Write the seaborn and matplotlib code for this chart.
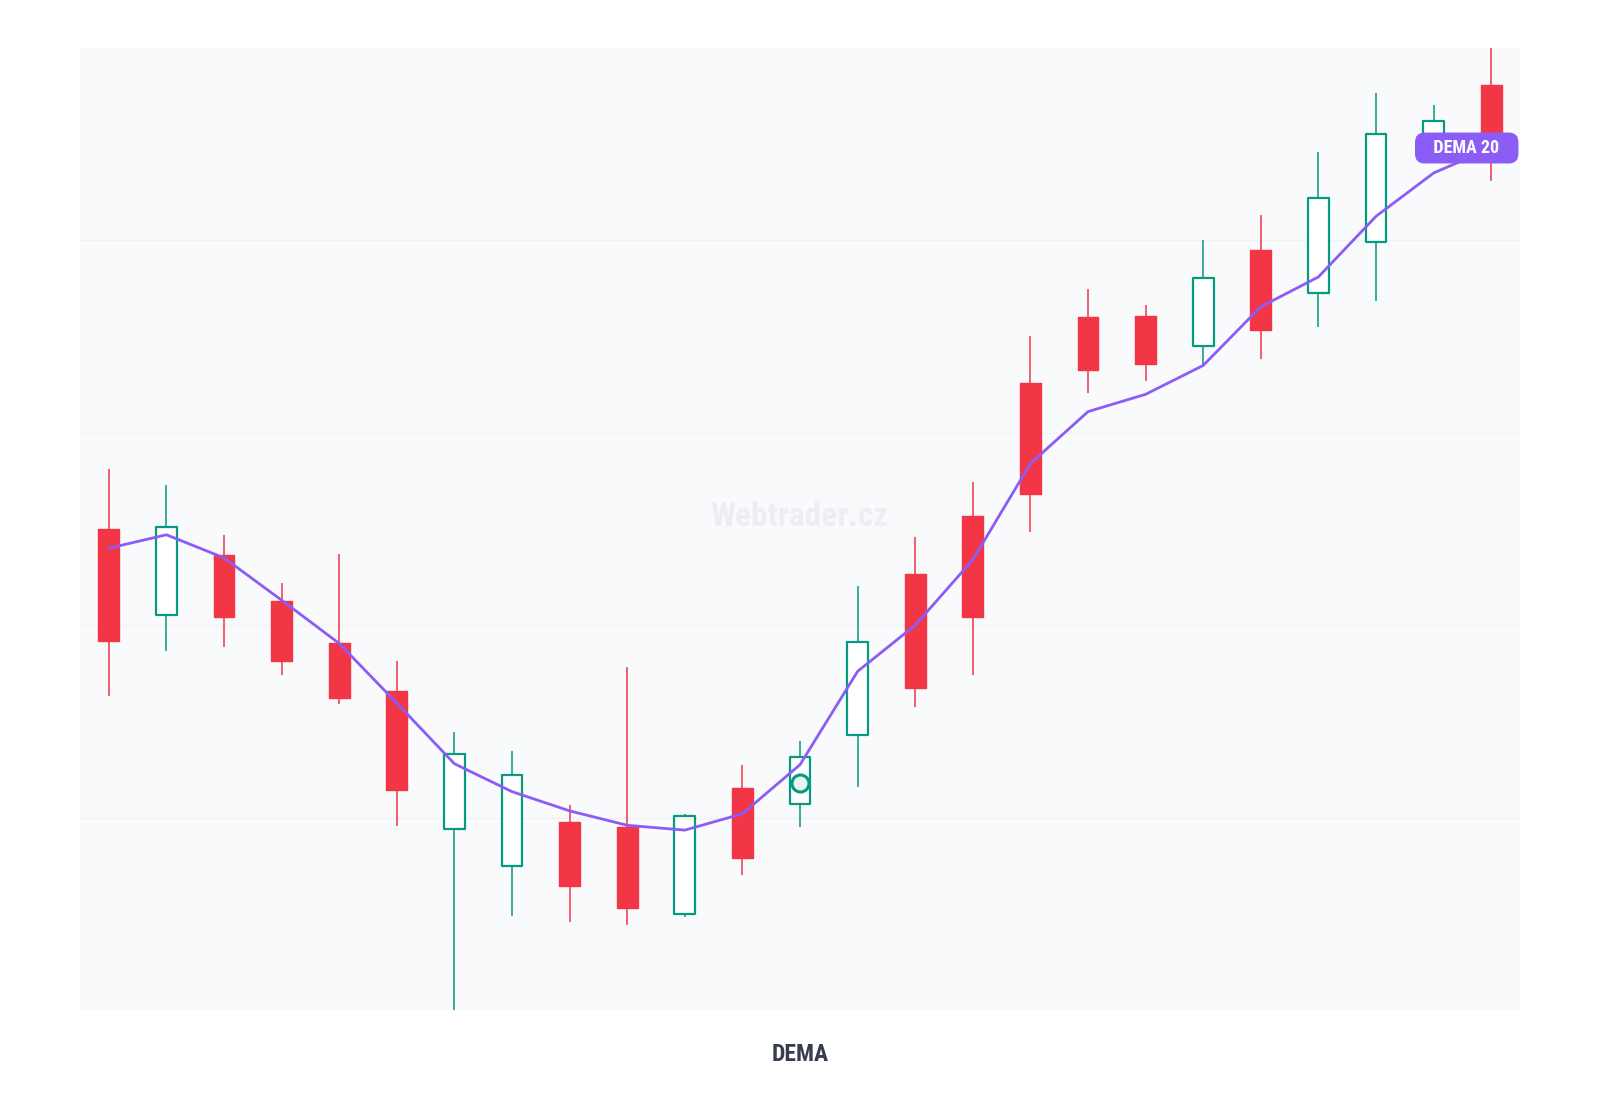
import numpy as np
import pandas as pd
import matplotlib.pyplot as plt
import seaborn as sns
from matplotlib import font_manager

# candle data (index 0..24), prices on a 0-100 scale
opens = [50.0, 41.1, 47.3, 42.5, 38.1, 33.2, 18.8, 15.0, 19.5, 19.0, 10.0, 23.1, 21.4,
         28.6, 45.3, 51.4, 65.2, 72.0, 72.1, 69.0, 79.0, 74.5, 79.8, 90.1, 96.1]
highs = [56.2, 54.6, 49.4, 44.4, 47.4, 36.3, 28.9, 26.9, 21.3, 35.7, 20.4, 25.5, 28.0,
         44.1, 49.2, 54.9, 70.1, 74.9, 73.3, 80.0, 82.6, 89.2, 95.3, 94.1, 101.0]
lows = [32.6, 37.3, 37.7, 34.8, 31.8, 19.1, -1.0, 9.8, 9.2, 8.8, 9.7, 14.0, 19.0,
        23.2, 31.5, 34.8, 49.7, 64.1, 65.4, 67.0, 67.7, 71.0, 73.7, 89.4, 86.2]
closes = [38.4, 50.2, 40.9, 36.3, 32.4, 22.9, 26.6, 24.4, 12.9, 10.6, 20.2, 15.8, 26.3,
          38.3, 33.5, 40.9, 53.6, 66.5, 67.1, 76.1, 70.7, 84.4, 91.1, 92.4, 89.4]
dema = [48.0, 49.4, 47.0, 42.6, 38.1, 31.9, 25.6, 22.7, 20.7, 19.2, 18.7, 20.4, 25.5,
        35.2, 40.0, 46.8, 56.8, 62.2, 64.0, 67.0, 73.1, 76.2, 82.5, 87.0, 89.6]
signal_idx = [12]
signal_val = [23.6]
line_label = "DEMA 20"
x_title = "DEMA"
watermark = "Webtrader.cz"

df = pd.DataFrame({"i": np.arange(len(opens)), "open": opens, "high": highs,
                   "low": lows, "close": closes, "dema": dema})
df["up"] = df["close"] >= df["open"]

RED = "#f23645"
GREEN = "#089981"
PURPLE = "#8b5cf6"

# pick a condensed face if the system has one
names = {f.name for f in font_manager.fontManager.ttflist}
cond = [n for n in ["Liberation Sans Narrow", "DejaVu Sans Condensed", "Roboto Condensed",
                    "Open Sans Condensed"] if n in names]
COND = cond + ["DejaVu Sans"]

sns.set_theme(style="white")
plt.rcParams["font.family"] = COND
plt.rcParams["font.stretch"] = "condensed"

fig, ax = plt.subplots(figsize=(16, 11), dpi=100)
fig.subplots_adjust(left=0.05, right=0.95, bottom=0.0818, top=0.9564)
ax.set_facecolor("#f9fafb")

# wicks
wick_cols = [GREEN if u else RED for u in df["up"]]
ax.vlines(df["i"], df["low"], df["high"], colors=wick_cols, lw=1.3, alpha=0.85, zorder=1)

# bodies
up = df[df["up"]]
dn = df[~df["up"]]
ax.bar(up["i"], up["close"] - up["open"], bottom=up["open"], width=0.36,
       facecolor="white", edgecolor=GREEN, linewidth=1.6, joinstyle="round", zorder=2)
ax.bar(dn["i"], dn["open"] - dn["close"], bottom=dn["close"], width=0.36,
       facecolor=RED, edgecolor=RED, linewidth=1.0, joinstyle="round", zorder=2)

# DEMA line
sns.lineplot(data=df, x="i", y="dema", color=PURPLE, lw=2.0, ax=ax, zorder=3,
             solid_joinstyle="round", solid_capstyle="round")

ax.scatter(signal_idx, signal_val, s=150, facecolor="#e8f5f1", edgecolor=GREEN,
           linewidth=2.2, zorder=4)

ax.set_xlim(-0.5, 24.5)
ax.set_ylim(0, 100)
ax.set_yticks([20, 40, 60, 80])
ax.set_xticks([])
ax.grid(axis="y", color="#f0f2f5", lw=1)
ax.tick_params(left=False, bottom=False, labelleft=False, labelbottom=False)
for s in ax.spines.values():
    s.set_visible(False)
ax.set_ylabel("")
ax.set_xlabel(x_title, fontsize=17, fontweight="bold", color="#363d4d", labelpad=24)

ax.text(0.5, 0.512, watermark, transform=ax.transAxes, ha="center", va="center",
        fontsize=24, fontweight="bold", color="#eceef2", zorder=0)

trans = ax.get_yaxis_transform()
ax.text(0.963, dema[-1], "   " + line_label + "   ", transform=trans, ha="center", va="center",
        fontsize=13, fontweight="bold", color="white", zorder=5,
        bbox=dict(boxstyle="round,pad=0.32,rounding_size=0.5", facecolor=PURPLE,
                  edgecolor=PURPLE))

fig.savefig("out.png", dpi=100)
